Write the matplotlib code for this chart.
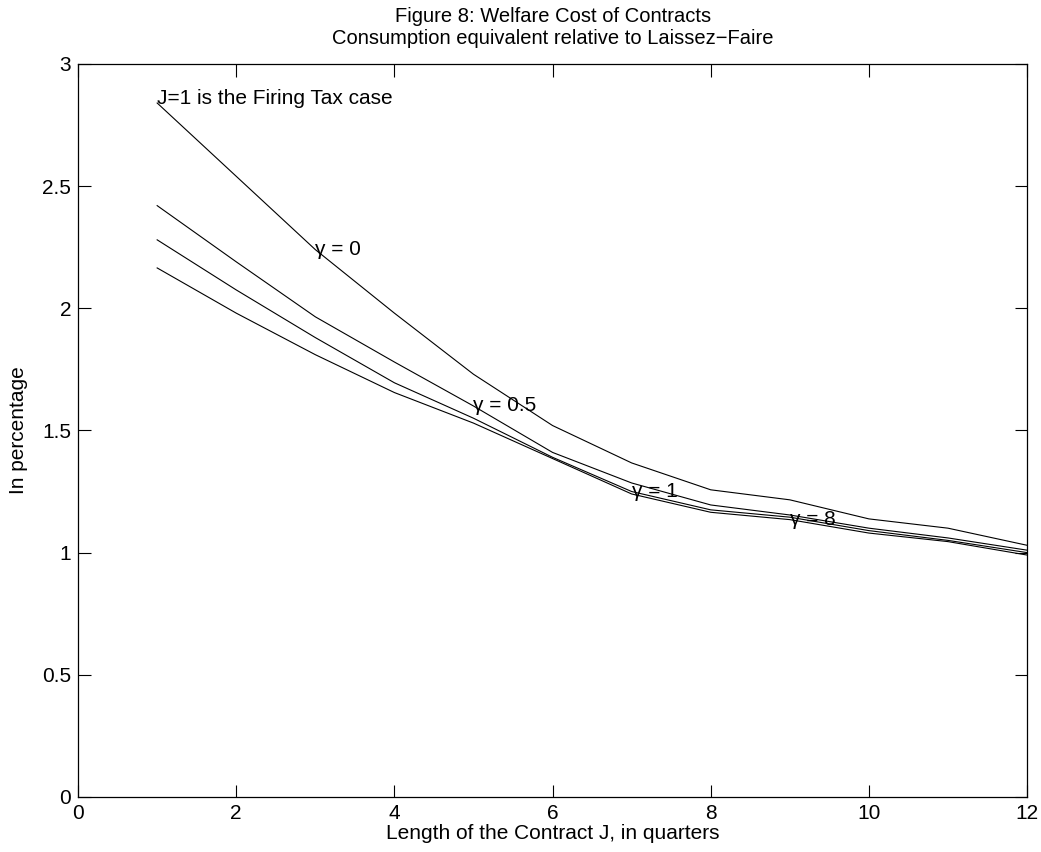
import numpy as np
import matplotlib
matplotlib.use('Agg')
import matplotlib.pyplot as plt

plt.rcParams['font.family'] = ['Liberation Sans', 'DejaVu Sans']

# Contract length J (quarters)
contract_len = [1, 2, 3, 4, 5, 6, 7, 8, 9, 10, 11, 12]

# Welfare cost (percent) for each gamma
cost_g0 = [2.84, 2.54, 2.24, 1.98, 1.73, 1.52, 1.367, 1.257, 1.216, 1.138, 1.10, 1.03]
cost_g05 = [2.42, 2.19, 1.965, 1.78, 1.60, 1.41, 1.285, 1.195, 1.154, 1.10, 1.06, 1.01]
cost_g1 = [2.28, 2.075, 1.88, 1.695, 1.55, 1.39, 1.25, 1.175, 1.145, 1.09, 1.05, 1.0]
cost_g8 = [2.165, 1.98, 1.81, 1.655, 1.53, 1.385, 1.24, 1.165, 1.135, 1.08, 1.045, 0.99]

series = [cost_g0, cost_g05, cost_g1, cost_g8]
labels = ['\u03b3 = 0', '\u03b3 = 0.5', '\u03b3 = 1', '\u03b3 = 8']
label_at = [3, 5, 7, 9]

FS = 15


def main():
    fig = plt.figure(figsize=(10.41, 8.52), dpi=100)
    ax = fig.add_axes([0.075, 0.0646, 0.9116, 0.8604])

    for vals, lab, j in zip(series, labels, label_at):
        ax.plot(contract_len, vals, color='black', lw=0.8)
        ax.text(j, vals[contract_len.index(j)], lab, fontsize=FS,
                ha='left', va='center')

    ax.text(1, cost_g0[0] + 0.02, 'J=1 is the Firing Tax case', fontsize=FS,
            ha='left', va='center')

    ax.set_xlim(0, 12)
    ax.set_ylim(0, 3)
    ax.set_xticks(range(0, 13, 2))
    ax.set_yticks(np.arange(0, 3.01, 0.5))
    ax.set_yticklabels(['0', '0.5', '1', '1.5', '2', '2.5', '3'])
    ax.tick_params(direction='in', length=9, width=0.8, top=True, right=True,
                   labelsize=FS, pad=5)
    for s in ax.spines.values():
        s.set_linewidth(0.9)

    ax.set_xlabel('Length of the Contract J, in quarters', fontsize=FS, labelpad=1)
    ax.set_ylabel('In percentage', fontsize=FS, labelpad=10)
    ax.set_title('Figure 8: Welfare Cost of Contracts\n'
                 'Consumption equivalent relative to Laissez\u2212Faire',
                 fontsize=14.5, pad=14, linespacing=1.2)

    fig.savefig('out.png', dpi=100)


if __name__ == '__main__':
    main()
